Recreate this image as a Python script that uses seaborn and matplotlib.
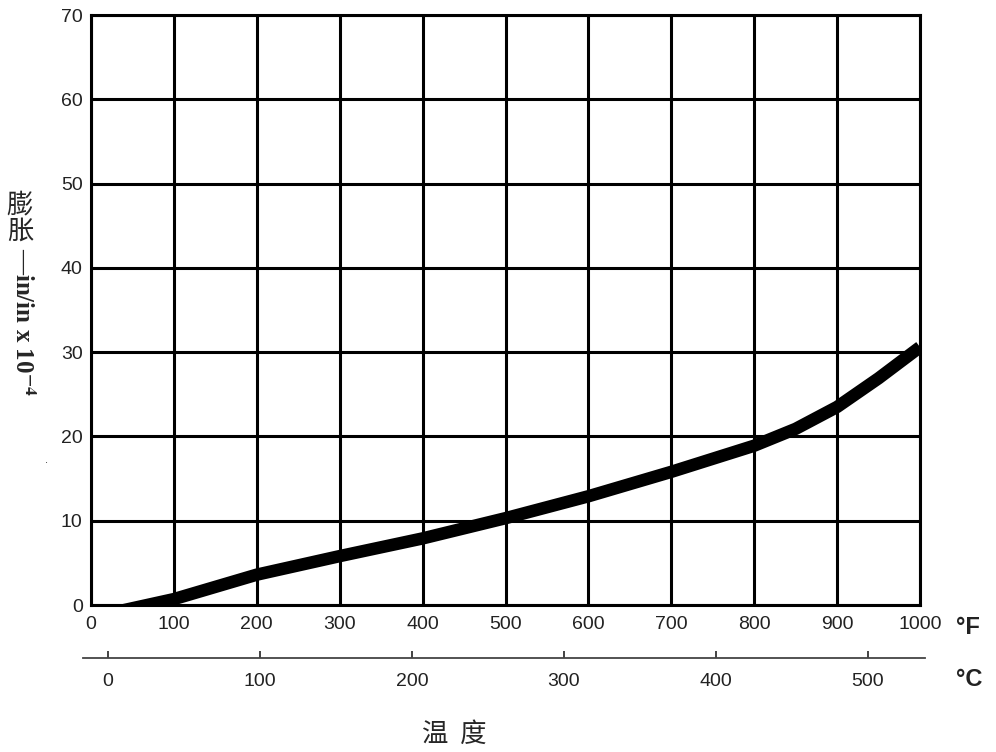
import pandas as pd
import matplotlib
matplotlib.use("Agg")
import matplotlib.pyplot as plt
import seaborn as sns

# datos
temp_f = [40, 100, 200, 300, 400, 500, 600, 700, 800, 850, 900, 950, 1000]
expansion = [-0.6, 0.7, 3.6, 5.8, 7.9, 10.3, 12.9, 15.8, 18.9, 20.9, 23.5, 26.9, 30.6]

f_ticks = [0, 100, 200, 300, 400, 500, 600, 700, 800, 900, 1000]
y_ticks = [0, 10, 20, 30, 40, 50, 60, 70]
c_ticks = [0, 100, 200, 300, 400, 500]

df = pd.DataFrame({"F": temp_f, "exp": expansion})

sns.set_style("white")
plt.rcParams["font.family"] = ["Liberation Sans", "DejaVu Sans"]
plt.rcParams["mathtext.fontset"] = "stix"

fig = plt.figure(figsize=(9.96, 7.52), dpi=100)
ax = fig.add_axes([91 / 996, 1 - 605 / 752, 829 / 996, 590 / 752])

sns.lineplot(data=df, x="F", y="exp", color="black", linewidth=9,
             solid_capstyle="butt", ax=ax, zorder=3)

ax.set_xlim(0, 1000)
ax.set_ylim(0, 70)
ax.set_xticks(f_ticks)
ax.set_yticks(y_ticks)
ax.set_xticklabels([str(t) for t in f_ticks], fontsize=14, color="#222222")
ax.set_yticklabels([str(t) for t in y_ticks], fontsize=14, color="#222222")
ax.tick_params(axis="both", length=0)
ax.tick_params(axis="x", pad=8)
ax.tick_params(axis="y", pad=6)
ax.grid(True, color="black", linewidth=2.2)
ax.set_axisbelow(True)
for s in ax.spines.values():
    s.set_color("black")
    s.set_linewidth(2.2)
ax.set_xlabel("")
ax.set_ylabel("")

# eje secundario en grados C
ax2 = fig.add_axes([83 / 996, 1 - 658 / 752, 842 / 996, 0.001])
ax2.set_xlim(-16.4, 537.5)
ax2.set_xticks(c_ticks)
ax2.set_xticklabels([str(t) for t in c_ticks], fontsize=14, color="#222222")
ax2.set_yticks([])
for side in ["top", "left", "right"]:
    ax2.spines[side].set_visible(False)
ax2.spines["bottom"].set_color("#444444")
ax2.spines["bottom"].set_linewidth(1.3)
ax2.tick_params(axis="x", bottom=True, direction="in", length=5, width=1.2, color="#222222", pad=11)
ax2.patch.set_alpha(0)

fig.text(956 / 996, 1 - 627 / 752, "°F", fontsize=17, fontweight="bold", va="center", ha="left", color="#222222")
fig.text(956 / 996, 1 - 679 / 752, "°C", fontsize=17, fontweight="bold", va="center", ha="left", color="#222222")

# etiquetas de ejes
fig.text(454 / 996, 1 - 734 / 752, "温  度", fontsize=19, ha="center", va="center",
         family=["Noto Sans CJK SC", "DejaVu Sans"])
fig.text(20 / 996, 1 - 218 / 752, "膨\n胀", fontsize=19, ha="center", va="center", linespacing=0.95,
         family=["Noto Sans CJK SC", "DejaVu Sans"])
fig.text(22 / 996, 1 - 248 / 752, r"—in/in x 10$^{\mathbf{-4}}$", fontsize=18, rotation=-90,
         ha="center", va="top", fontweight="bold", family=["Liberation Serif", "DejaVu Serif"])
fig.text(47 / 996, 1 - 460 / 752, ".", fontsize=8, ha="center", va="center")

fig.savefig("out.png", dpi=100)
